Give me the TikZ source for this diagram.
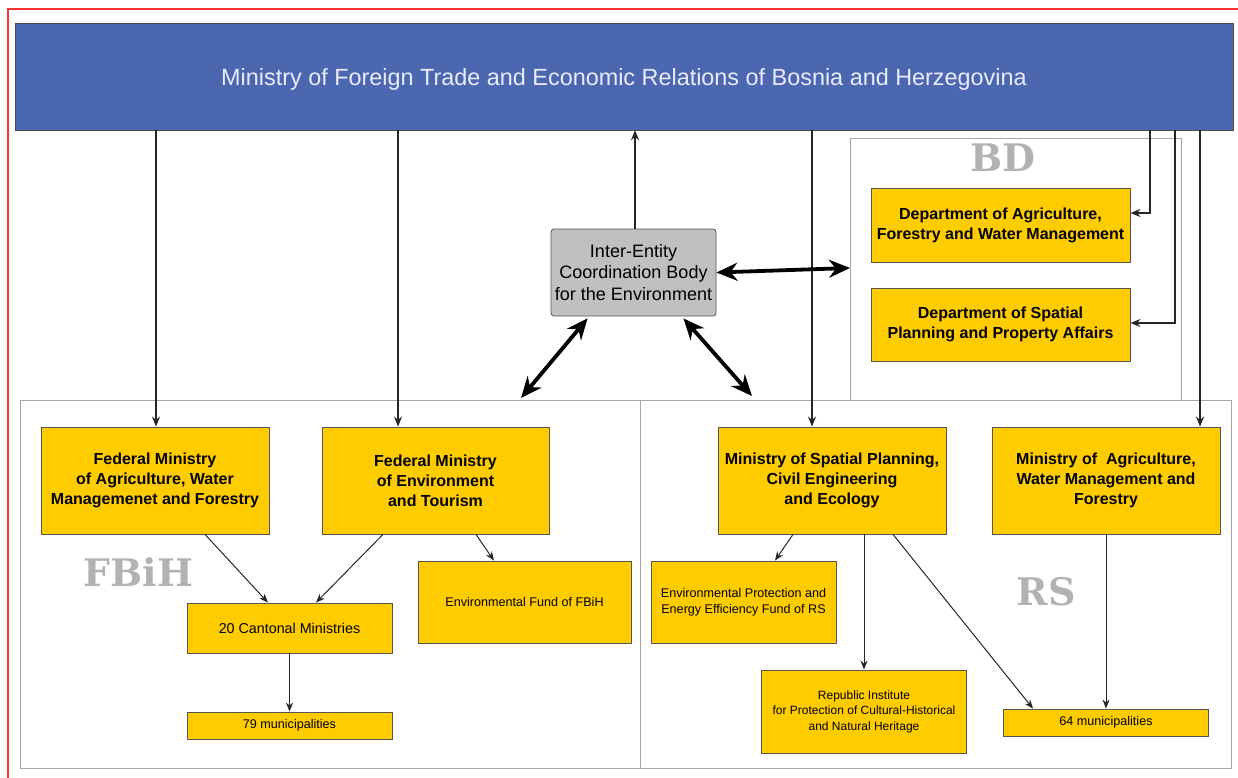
\documentclass[tikz,border=0pt]{standalone}
\usepackage{fontspec}
\setmainfont{Liberation Sans}
\newfontfamily\labfont{DejaVu Serif}
\usetikzlibrary{arrows.meta}
\definecolor{topblue}{HTML}{4A67B0}
\definecolor{gold}{HTML}{FFCC00}
\definecolor{boxgray}{HTML}{C0C0C0}
\definecolor{edgegray}{HTML}{555555}

\begin{document}
\begin{tikzpicture}[x=1pt, y=-1pt,
  ministry/.style={draw=edgegray, line width=0.8pt, fill=gold, align=center, inner sep=0pt,
    font=\fontsize{16}{20}\selectfont\bfseries},
  office/.style={draw=edgegray, line width=0.8pt, fill=gold, align=center, inner sep=0pt,
    font=\fontsize{12.6}{15.5}\selectfont},
  region/.style={draw=black!35, line width=0.8pt},
  entity/.style={text=black!30, font=\labfont\fontsize{38}{38}\selectfont\bfseries},
  link/.style={-{Stealth[length=9pt,width=7pt]}, line width=1pt, draw=black!85},
  feed/.style={-{Stealth[length=10pt,width=8pt]}, line width=1.8pt, draw=black!85},
  both/.style={{Stealth[length=21pt,width=18pt]}-{Stealth[length=21pt,width=18pt]}, line width=3.8pt}]
\useasboundingbox (0,0) rectangle (1238,778);
\draw [red!80, line width=1.2pt] (8,9) rectangle (1250,790);

% regions
\draw [region] (850,138) rectangle (1181,400);
\draw [region] (20,400) rectangle (640,768);
\draw [region] (640,400) rectangle (1231,768);
\coordinate (bdwest) at (850,268);
\coordinate (fbihtop) at (521,398);
\coordinate (rstop) at (752,396);
\node [entity] (bd) at (1003,158) {BD};
\node [entity] (fbih) at (138.5,572.5) {FBiH};
\node [entity] (rs) at (1046,592) {RS};

% state level
\node [draw=black!70, fill=topblue, text=white!92!blue, minimum width=1218pt, minimum height=107pt,
  text height=24pt, text depth=5pt, font=\fontsize{23.4}{28}\selectfont] (mofter) at (624,76.5)
  {Ministry of Foreign Trade and Economic Relations of Bosnia and Herzegovina};
\node [draw=edgegray, line width=0.8pt, fill=boxgray, rounded corners=3pt, align=center, minimum width=165pt,
  minimum height=87pt, inner sep=0pt, font=\fontsize{18}{21.5}\selectfont] (ieb) at (633.5,272.5)
  {Inter-Entity\\Coordination Body\\for the Environment};

% Brcko District
\node [ministry, minimum width=259pt, minimum height=74pt] (dafw) at (1000.5,225)
  {Department of Agriculture,\\Forestry and Water Management};
\node [ministry, minimum width=259pt, minimum height=73pt] (dsp) at (1000.5,324.5)
  {Department of Spatial\\Planning and Property Affairs};

% FBiH
\node [ministry, minimum width=228pt, minimum height=107pt] (fmaw) at (155,480.5)
  {Federal Ministry\\of Agriculture, Water\\Managemenet and Forestry};
\node [ministry, minimum width=227pt, minimum height=107pt] (fmet) at (435.5,480.5)
  {Federal Ministry\\of Environment\\and Tourism};
\node [office, minimum width=205pt, minimum height=50pt, font=\fontsize{14.3}{17}\selectfont]
  (cant) at (289.5,628) {20 Cantonal Ministries};
\node [office, minimum width=213pt, minimum height=82pt] (eff) at (524.5,602)
  {Environmental Fund of FBiH};
\node [office, minimum width=205pt, minimum height=27pt] (mun79) at (289.5,725.5)
  {79 municipalities};

% RS
\node [ministry, minimum width=228pt, minimum height=107pt] (mspc) at (832,480.5)
  {Ministry of Spatial Planning,\\Civil Engineering\\and Ecology};
\node [ministry, minimum width=228pt, minimum height=107pt] (mawf) at (1106,480.5)
  {Ministry of \ Agriculture,\\Water Management and\\Forestry};
\node [office, minimum width=185pt, minimum height=82pt] (epf) at (743.5,602)
  {Environmental Protection and\\Energy Efficiency Fund of RS};
\node [office, minimum width=205pt, minimum height=83pt, font=\fontsize{12}{15.5}\selectfont]
  (rip) at (864,711.5)
  {Republic Institute\\for Protection of Cultural-Historical\\and Natural Heritage};
\node [office, minimum width=205pt, minimum height=27pt] (mun64) at (1106,722.5)
  {64 municipalities};

% from the state ministry
\draw [feed] ([xshift=1pt]fmaw.north |- mofter.south) -- ([xshift=1pt]fmaw.north);
\draw [feed] ([xshift=-37.5pt]fmet.north |- mofter.south) -- ([xshift=-37.5pt]fmet.north);
\draw [feed] ([xshift=1.5pt]ieb.north) -- ([xshift=1.5pt]ieb.north |- mofter.south);
\draw [feed] ([xshift=-20pt]mspc.north |- mofter.south) -- ([xshift=-20pt]mspc.north);
\draw [feed] ([xshift=94pt]mawf.north |- mofter.south) -- ([xshift=94pt]mawf.north);
\draw [feed] ([xshift=-83pt]mofter.south east) |- ([yshift=12pt]dafw.east);
\draw [feed] ([xshift=-58pt]mofter.south east) |- ([yshift=1.5pt]dsp.east);

% coordination
\draw [both] (ieb.east) -- (bdwest);
\draw [both] ([shift={(37,2)}]ieb.south west) -- (fbihtop);
\draw [both] ([shift={(-33,2)}]ieb.south east) -- (rstop);

% within the entities
\draw [link] ([xshift=50pt]fmaw.south) -- ([xshift=-21.5pt]cant.north);
\draw [link] ([xshift=-52.5pt]fmet.south) -- ([xshift=26.5pt]cant.north);
\draw [link] ([xshift=40.5pt]fmet.south) -- ([xshift=-30.5pt]eff.north);
\draw [link] (cant.south) -- (mun79.north);
\draw [link] ([xshift=-39pt]mspc.south) -- ([xshift=31.5pt]epf.north);
\draw [link] (rip.north |- mspc.south) -- (rip.north);
\draw [link] ([xshift=61pt]mspc.south) -- ([xshift=-73pt]mun64.north);
\draw [link] (mawf.south) -- (mawf.south |- mun64.north);
\end{tikzpicture}
\end{document}
